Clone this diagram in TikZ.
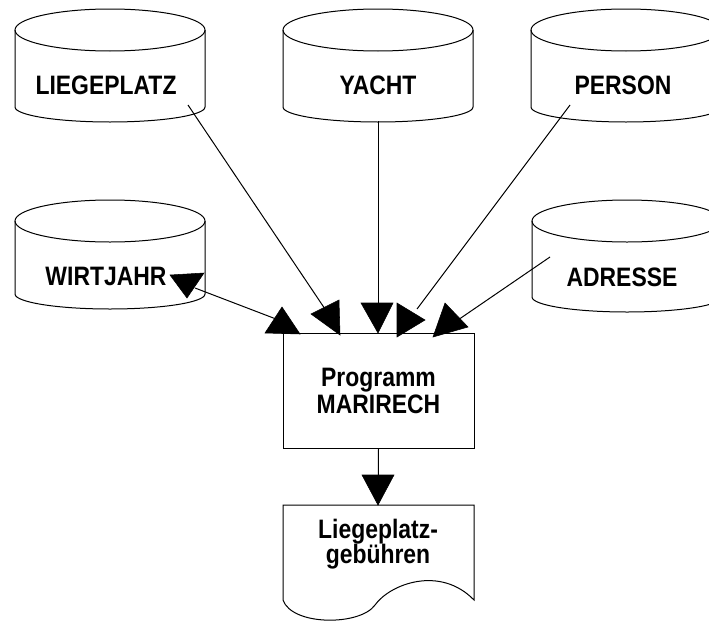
\documentclass[tikz,border=0pt]{standalone}
\usepackage{fontspec}
\setmainfont[FakeStretch=0.86]{Liberation Sans}

\tikzset{every picture/.style={line width=0.75pt}}
\tikzset{
  dblabel/.style={font=\bfseries\fontsize{20}{22}\selectfont},
  progbox/.style={draw, minimum width=143.25pt, minimum height=86.25pt, inner sep=0pt,
    align=center, font=\bfseries\fontsize{20}{20.25}\selectfont},
  doclabel/.style={align=center, inner sep=0pt, font=\bfseries\fontsize{20}{18.75}\selectfont},
  head/.style={fill=black, draw=black, line width=0.4pt}
}

\begin{document}
\begin{tikzpicture}[x=0.75pt,y=0.75pt,yscale=-1,xscale=1]
	\useasboundingbox (0,0) rectangle (709,621);
	\clip (0,0) rectangle (709,621);

	%Shapes: Cylinders (data stores)
	\foreach \nm/\lx/\ty/\by/\tx/\txty/\txt in {
	    liegeplatz/15/30/107/106/85/LIEGEPLATZ,
	    yacht/283/30/107/378/85/YACHT,
	    person/531/30/107/623/85/PERSON,
	    wirtjahr/15/221/294/106/276/WIRTJAHR,
	    adresse/532/221/297/622/277/ADRESSE}{
	  \draw [fill=white] (\lx,\ty) -- (\lx,\by) arc [start angle=180, end angle=0, x radius=95, y radius=15] -- (\lx+190,\ty) ;
	  \draw (\lx+95,\ty) ellipse [x radius=95, y radius=21] ;
	  \node [dblabel] (\nm) at (\tx,\txty) {\txt};
	}

	%Shape: Rectangle (program)
	\node [progbox] (prog) at (378.5,390.5) {Programm\\MARIRECH};

	%Shape: Document
	\draw (283,505) -- (283,600) .. controls (292,626) and (360,626) .. (375,605) .. controls (390,584) and (440,565) .. (474,600) -- (474,505) -- cycle ;
	\node [doclabel] (gebuehr) at (378,544.5) {Liegeplatz-\\gebühren};

	%Connector end points
	\coordinate (lp-out) at (188,105);
	\coordinate (lp-in) at (325,309);
	\coordinate (ya-out) at (378,121);
	\coordinate (ya-in) at (378,330);
	\coordinate (pe-out) at (570,105);
	\coordinate (pe-in) at (417,309);
	\coordinate (ad-out) at (550,257);
	\coordinate (ad-in) at (455,322);
	\coordinate (wj-out) at (195,288);
	\coordinate (wj-in) at (276,319);
	\coordinate (doc-top) at (378,505);

	%Straight Lines
	\draw (lp-out) -- (lp-in) ;
	\draw (ya-out) -- (ya-in) ;
	\draw (pe-out) -- (pe-in) ;
	\draw (ad-out) -- (ad-in) ;
	\draw (wj-out) -- (wj-in) ;
	\draw (prog.south) -- (doc-top) ;

	%Arrow heads
	\draw [head] (170,275) -- (204,273) -- (187,298) -- cycle ;
	\draw [head] (265,333) -- (282,307) -- (300,334) -- cycle ;
	\draw [head] (311,314) -- (339,300) -- (340,335) -- cycle ;
	\draw [head] (361,303) -- (393,303) -- (378,333) -- cycle ;
	\draw [head] (397,303) -- (425,320) -- (397,337) -- cycle ;
	\draw [head] (433,337) -- (445,303) -- (468,327) -- cycle ;
	\draw [head] (362,475) -- (394,475) -- (378,505) -- cycle ;

\end{tikzpicture}
\end{document}
